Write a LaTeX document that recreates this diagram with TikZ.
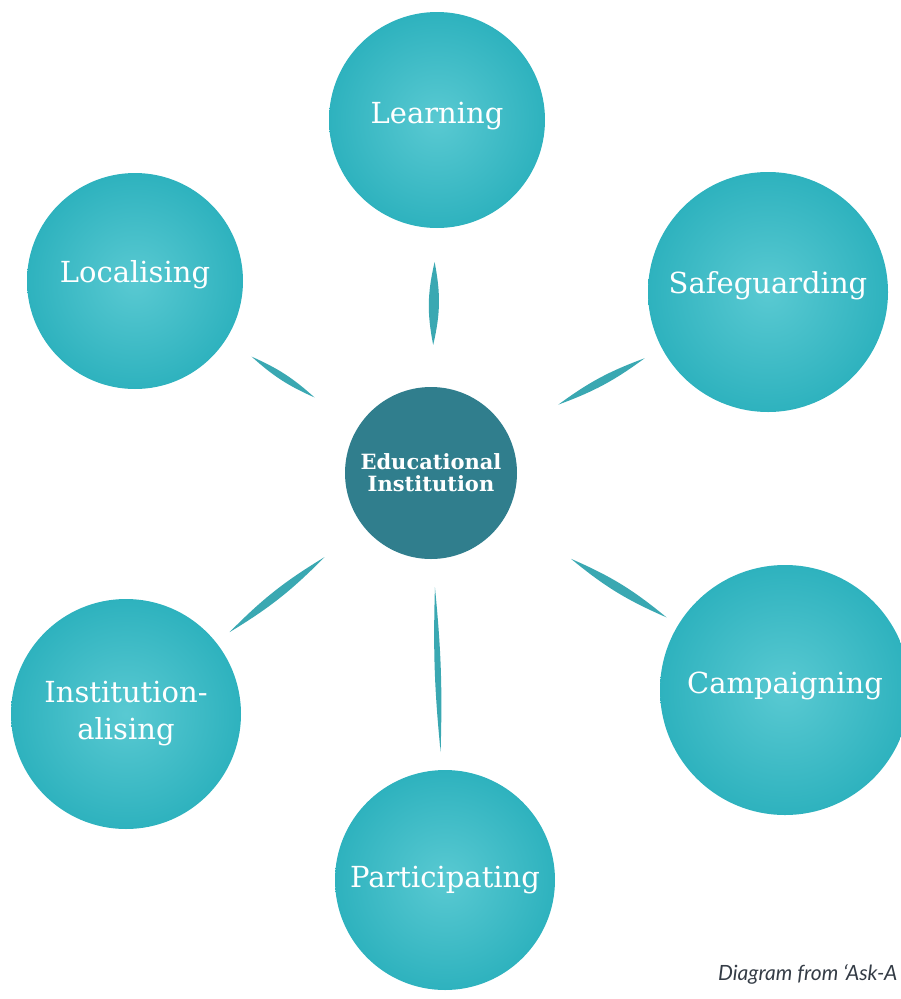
\documentclass[tikz,border=0pt]{standalone}
\usepackage{fontspec}
\setmainfont{DejaVu Serif}
\newfontfamily\captionfont{Lato}
\usetikzlibrary{calc}

\definecolor{blobteal}{RGB}{60,192,202}
\definecolor{blobedge}{RGB}{46,178,190}
\definecolor{hubteal}{RGB}{48,126,141}
\definecolor{brushteal}{RGB}{58,168,178}
\definecolor{captiongray}{RGB}{52,60,70}

\tikzset{
    blob/.style={circle, inner sep=0pt, text=white, align=center,
        inner color=blobteal!85!white, outer color=blobedge,
        font=\fontsize{29}{37}\selectfont},
    hub/.style={circle, fill=hubteal, inner sep=0pt, text=white, align=center,
        font=\bfseries\fontsize{21}{22}\selectfont},
    brush/.style={fill=brushteal},
}

% tapered brush mark on the line between two nodes
% #1 from, #2 to, #3 start distance, #4 end distance, #5 bend
\newcommand{\brushline}[5]{%
    \fill[brush] ($(#1)!#3!(#2)$) to[bend left=#5] ($(#1)!#4!(#2)$)
        to[bend left=#5] ($(#1)!#3!(#2)$) -- cycle;}

\begin{document}
\begin{tikzpicture}[x=1pt, y=-1pt]

    \useasboundingbox (0,0) rectangle (901,999);
    \clip (0,0) rectangle (901,999);

    % Centre
    \node[hub, minimum size=172pt] (edu) at (431,473) {Educational\\Institution};

    % Surrounding activities
    \node[blob, minimum size=216pt, text depth=14pt] (learn) at (437,120) {Learning};
    \node[blob, minimum size=240pt, text depth=20pt] (safe)  at (768,292) {Safeguarding};
    \node[blob, minimum size=250pt, text depth=14pt] (camp)  at (785,690) {Campaigning};
    \node[blob, minimum size=220pt] (part)  at (445,880) {Participating};
    \node[blob, minimum size=230pt] (inst)  at (126,714) {Institution-\\alising};
    \node[blob, minimum size=216pt, text depth=20pt] (local) at (135,281) {Localising};

    % Brush strokes towards the centre
    \brushline{learn}{edu}{142pt}{225pt}{12}
    \brushline{safe}{edu}{140pt}{238pt}{8}
    \brushline{camp}{edu}{139pt}{251pt}{8}
    \brushline{part}{edu}{128pt}{293pt}{3.6}
    \brushline{inst}{edu}{132pt}{253pt}{7}
    \brushline{local}{edu}{139pt}{214pt}{9}

    % Source note
    \node[anchor=base west, text=captiongray, inner sep=0pt,
        font=\captionfont\itshape\fontsize{21}{22}\selectfont] (source) at (718,980)
        {Diagram from ‘Ask-A};

\end{tikzpicture}
\end{document}
